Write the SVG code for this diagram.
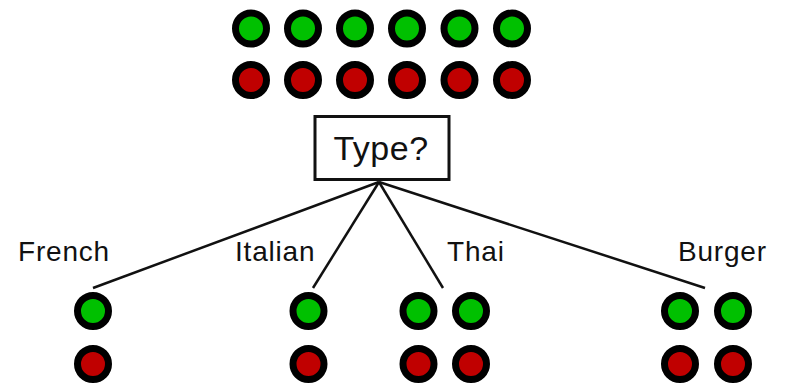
<svg xmlns="http://www.w3.org/2000/svg" width="785" height="386" viewBox="0 0 785 386">
<style>
.g{fill:#00c000;stroke:#000;stroke-width:7}
.r{fill:#c00000;stroke:#000;stroke-width:7}
.lbl{font-family:"Liberation Sans",Arial,sans-serif;font-size:28px;fill:#111;letter-spacing:0.8px}
.edge{stroke:#111;stroke-width:2.5;fill:none}
</style>
<rect width="785" height="386" fill="#fff"/>
<g id="top-examples">
<circle class="g" cx="251" cy="28.5" r="15.5"/><circle class="g" cx="303" cy="28.5" r="15.5"/><circle class="g" cx="355" cy="28.5" r="15.5"/><circle class="g" cx="407" cy="28.5" r="15.5"/><circle class="g" cx="459.5" cy="28.5" r="15.5"/><circle class="g" cx="512" cy="28.5" r="15.5"/>
<circle class="r" cx="251" cy="80" r="15.5"/><circle class="r" cx="303" cy="80" r="15.5"/><circle class="r" cx="355" cy="80" r="15.5"/><circle class="r" cx="407" cy="80" r="15.5"/><circle class="r" cx="459.5" cy="80" r="15.5"/><circle class="r" cx="512" cy="80" r="15.5"/>
</g>
<g id="connectors">
<line class="edge" x1="379" y1="182" x2="93" y2="288"/>
<line class="edge" x1="379" y1="182" x2="313" y2="288"/>
<line class="edge" x1="379" y1="182" x2="443" y2="288"/>
<line class="edge" x1="379" y1="182" x2="705" y2="288"/>
</g>
<g id="type-node">
<rect x="315" y="116.5" width="134" height="63" fill="#fff" stroke="#111" stroke-width="3"/>
<text x="381" y="160" text-anchor="middle" font-family="Liberation Sans, Arial, sans-serif" font-size="34" fill="#111" letter-spacing="0.5">Type?</text>
</g>
<g id="french">
<text class="lbl" x="18" y="261">French</text>
<circle class="g" cx="93" cy="311" r="15.5"/><circle class="r" cx="93" cy="364" r="15.5"/>
</g>
<g id="italian">
<text class="lbl" x="235" y="261">Italian</text>
<circle class="g" cx="308.5" cy="311" r="15.5"/><circle class="r" cx="308.5" cy="364" r="15.5"/>
</g>
<g id="thai">
<text class="lbl" x="447" y="261">Thai</text>
<circle class="g" cx="418.5" cy="311" r="15.5"/><circle class="g" cx="471" cy="311" r="15.5"/>
<circle class="r" cx="418.5" cy="364" r="15.5"/><circle class="r" cx="471" cy="364" r="15.5"/>
</g>
<g id="burger">
<text class="lbl" x="678" y="261">Burger</text>
<circle class="g" cx="680" cy="311" r="15.5"/><circle class="g" cx="733" cy="311" r="15.5"/>
<circle class="r" cx="680" cy="364" r="15.5"/><circle class="r" cx="733" cy="364" r="15.5"/>
</g>
</svg>
